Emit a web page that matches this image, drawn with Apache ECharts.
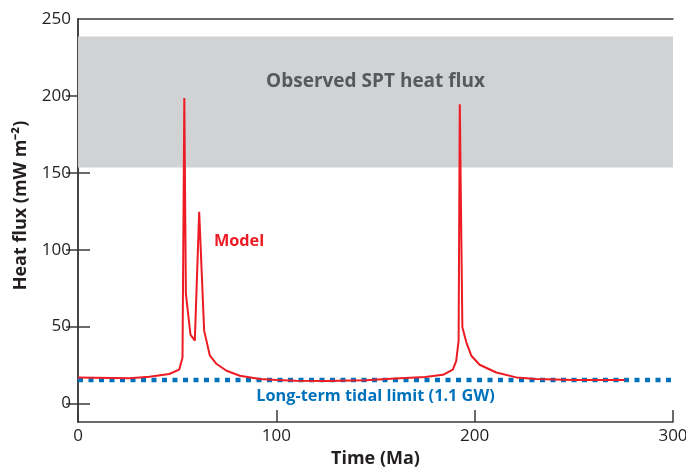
<!DOCTYPE html>
<html>
<head>
<meta charset="utf-8">
<script src="https://cdn.jsdelivr.net/npm/echarts@6/dist/echarts.min.js"></script>
<style>
  html, body { margin: 0; padding: 0; background: #fff; }
  #chart { width: 686px; height: 468px; }
</style>
</head>
<body>
<div id="chart"></div>
<script>
// model heat flux (Ma, mW m^-2)
const modelTime = [0, 26, 36, 46, 51, 52.7, 53.6, 54.4, 56.7, 58.9, 61.1, 63.6, 66.5, 69.9, 74.9, 81.6, 91.7,
  100, 110, 125, 145, 160, 175, 184, 189, 190.7, 191.9, 192.5, 193.8, 195.8, 198.3, 202.5, 210.9, 221, 231, 250, 275.6];
const modelFlux = [17, 16.5, 17.4, 19.2, 22, 30, 198.6, 71.3, 44.8, 40.9, 124.6, 47.4, 31.1, 25.7, 21.3, 18.1, 15.9,
  15.3, 14.8, 14.6, 15.2, 16.3, 17.3, 18.7, 22, 27.8, 40.9, 194.6, 49.6, 39.8, 31.1, 25.2, 20.2, 17, 15.9, 15.3, 15.3];

const tidalLimit = 15.3;
const observedBand = [153.5, 238.7];
const yTicks = [0, 50, 100, 150, 200, 250];

const FONT = "'Open Sans', sans-serif";
const AXIS = "#3a3a3a";

const chart = echarts.init(document.getElementById("chart"), null, { renderer: "canvas" });

const sideAxis = (pos) => ({
  type: "value",
  position: pos,
  min: -12,
  max: 250,
  axisLine: { show: true, lineStyle: { color: AXIS, width: 1.5 } },
  axisTick: {
    show: true, inside: true, length: 12, customValues: yTicks.slice(0, 5),
    lineStyle: { color: AXIS, width: 1.5 }
  },
  axisLabel: {
    show: pos === "left", customValues: yTicks, margin: 7,
    color: "#231f20", fontSize: 17, fontFamily: FONT
  },
  splitLine: { show: false }
});

// invisible anchor for a text label placed in data coordinates
const textLabel = (text, coord, color) => ({
  symbol: "circle",
  symbolSize: 1,
  itemStyle: { color: "rgba(0,0,0,0)" },
  label: {
    show: true, position: "inside", formatter: text,
    color: color, fontSize: 16.3, fontWeight: "bold", fontFamily: FONT
  },
  data: [{ coord: coord }]
});

chart.setOption({
  animation: false,
  backgroundColor: "#fff",
  grid: { left: 78, top: 19, right: 13, bottom: 46, show: false, outerBoundsMode: "none", containLabel: false },
  xAxis: [
    {
      type: "value", position: "bottom", min: 0, max: 300, interval: 100,
      name: "Time (Ma)", nameLocation: "middle", nameGap: 27,
      nameTextStyle: { fontSize: 18, fontWeight: "bold", color: "#231f20", fontFamily: FONT },
      axisLine: { show: true, onZero: false, lineStyle: { color: AXIS, width: 1.5 } },
      axisTick: { show: true, inside: true, length: 12, lineStyle: { color: AXIS, width: 1.5 } },
      axisLabel: { color: "#231f20", fontSize: 17, fontFamily: FONT, margin: 6 },
      splitLine: { show: false }
    },
    {
      type: "value", position: "top", min: 0, max: 300,
      axisLine: { show: true, onZero: false, lineStyle: { color: AXIS, width: 1.5 } },
      axisTick: { show: false }, axisLabel: { show: false }, splitLine: { show: false }
    }
  ],
  yAxis: [
    Object.assign(sideAxis("left"), {
      name: "Heat flux (mW m\u207B\u00B2)", nameLocation: "middle", nameGap: 48,
      nameTextStyle: { fontSize: 18, fontWeight: "bold", color: "#231f20", fontFamily: FONT, padding: [0, 0, 0, 30] }
    }),
    sideAxis("right")
  ],
  series: [
    {
      name: "Tidal limit",
      type: "line",
      data: [[0, tidalLimit], [300, tidalLimit]],
      symbol: "none",
      lineStyle: { color: "#0072bc", width: 4.5, type: [5, 5.5], cap: "butt" },
      z: 2,
      markArea: {
        silent: true,
        itemStyle: { color: "#d1d2d4" },
        label: {
          show: true, position: "insideTop", distance: 36,
          color: "#58595b", fontSize: 19, fontWeight: "bold", fontFamily: FONT
        },
        data: [[{ yAxis: observedBand[0], name: "Observed SPT heat flux" }, { yAxis: observedBand[1] }]]
      },
      markPoint: textLabel("Long-term tidal limit (1.1 GW)", [150, 4.4], "#0072bc")
    },
    {
      name: "Model",
      type: "line",
      data: modelTime.map((t, i) => [t, modelFlux[i]]),
      symbol: "none",
      lineStyle: { color: "#ed1c24", width: 2 },
      z: 3,
      markPoint: textLabel("Model", [81.2, 105.5], "#ed1c24")
    }
  ]
});
</script>
</body>
</html>
